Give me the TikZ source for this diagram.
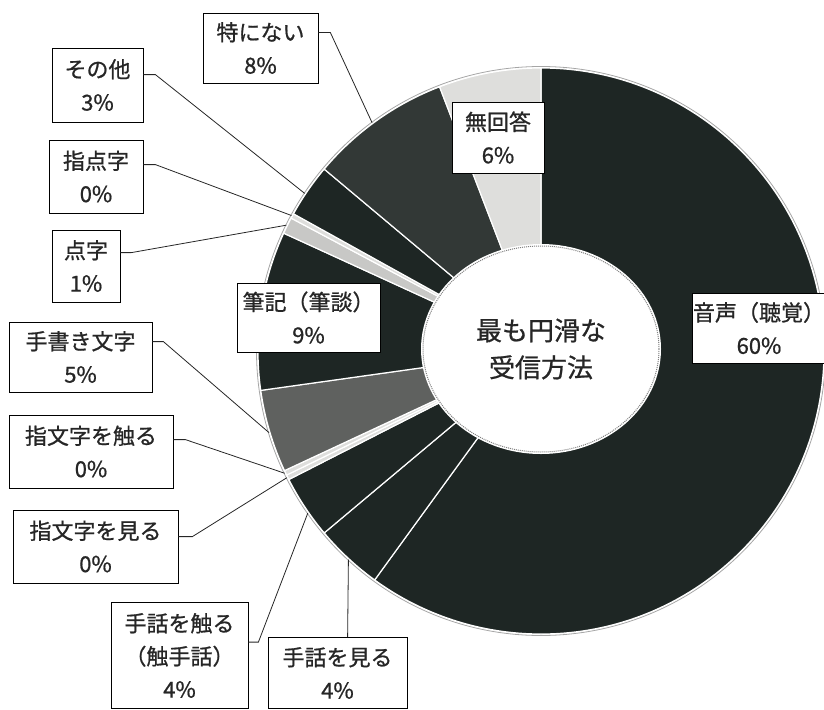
\documentclass[tikz,border=0pt]{standalone}
\usepackage{fontspec}
\setmainfont{Noto Sans CJK JP}[FakeBold=0.8]
\usetikzlibrary{calc}
\definecolor{inkDark}{RGB}{30,38,36}
\definecolor{inkSpeck}{RGB}{50,56,54}
\definecolor{inkMid}{RGB}{95,97,95}
\definecolor{inkLight}{RGB}{200,200,198}
\definecolor{inkPale}{RGB}{222,222,220}
\newcommand{\drawSlice}[3]{
    \filldraw[fill=#3, draw=white, line width=1.2pt] (C) -- ($(C)+(#1:283)$) arc (#1:#2:283) -- cycle;
}
\newcommand{\leaderEnd}[2]{
    \coordinate (#1) at ($(C)+(#2:284)$);
}
\tikzset{
    lbl/.style={draw, fill=white, line width=0.8pt, align=center, inner sep=0pt,
        text=black!85, font=\fontsize{22}{33}\selectfont},
    lead/.style={line width=0.8pt, black!85}
}

\begin{document}
\begin{tikzpicture}[x=1pt, y=1pt]
\useasboundingbox (0,0) rectangle (824,-709);
\coordinate (C) at (541,-351);
\coordinate (H) at (541,-349);

% Ring, clockwise from the top
\drawSlice{90}{-126}{inkDark}      % voice
\drawSlice{-126}{-140}{inkDark}    % sign, seen
\drawSlice{-140}{-153}{inkDark}    % sign, touched
\drawSlice{-153}{-154}{inkPale}    % fingerspelling, seen
\drawSlice{-154}{-155}{inkPale}    % fingerspelling, touched
\drawSlice{-155}{-172}{inkMid}     % handwriting
\drawSlice{-172}{-204.6}{inkDark}  % writing
\drawSlice{-204.6}{-208}{inkLight} % braille
\drawSlice{-208}{-209}{inkPale}    % finger braille
\drawSlice{-209}{-220}{inkDark}    % other
\drawSlice{-220}{-249}{inkSpeck}   % nothing
\drawSlice{-249}{-270}{inkPale}    % no answer
\draw[gray!70, line width=0.8pt] (C) circle (284.5);

% Hole
\filldraw[fill=white, draw=white, line width=2pt] (H) ellipse (119 and 104);
\draw[gray, densely dotted, line width=1pt] (H) ellipse (118 and 103);
\node[font=\fontsize{26}{37}\selectfont, align=center, text=black!85] (title) at (H) {最も円滑な\\受信方法};

% Labels
\node[lbl, minimum width=115pt, minimum height=70pt] (toku) at (260.5,-48) {特にない\\8\%};
\node[lbl, minimum width=91pt, minimum height=74pt] (sonota) at (97.5,-85) {その他\\3\%};
\node[lbl, minimum width=94pt, minimum height=73pt] (shitenji) at (96,-176.5) {指点字\\0\%};
\node[lbl, minimum width=68pt, minimum height=72pt] (tenji) at (86,-266) {点字\\1\%};
\node[lbl, minimum width=143pt, minimum height=69pt] (hikki) at (308.5,-317.5) {筆記（筆談）\\9\%};
\node[lbl, minimum width=92pt, minimum height=71pt] (mukaito) at (498,-137.5) {無回答\\6\%};
\node[lbl, minimum width=134pt, minimum height=70pt] (onsei) at (759,-328) {音声（聴覚）\\60\%};
\node[lbl, minimum width=143pt, minimum height=70pt] (tegaki) at (80.5,-357) {手書き文字\\5\%};
\node[lbl, minimum width=164pt, minimum height=73pt] (yubifure) at (91,-451.5) {指文字を触る\\0\%};
\node[lbl, minimum width=165pt, minimum height=73pt] (yubimiru) at (95.5,-546.5) {指文字を見る\\0\%};
\node[lbl, minimum width=137pt, minimum height=106pt] (shufure) at (179.5,-655.5) {手話を触る\\（触手話）\\4\%};
\node[lbl, minimum width=139pt, minimum height=71pt] (shumiru) at (337.5,-673) {手話を見る\\4\%};

% Leader lines
\leaderEnd{e-toku}{126.5}
\leaderEnd{e-sonota}{146.3}
\leaderEnd{e-shitenji}{151.5}
\leaderEnd{e-tenji}{153.7}
\leaderEnd{e-tegaki}{-163.3}
\leaderEnd{e-yubifure}{-154.5}
\leaderEnd{e-yubimiru}{-153.5}
\leaderEnd{e-shufure}{-145.2}
\leaderEnd{e-shumiru}{-132.7}
\draw[lead] (toku.north east) ++(0,-20) -- ++(12,0) -- (e-toku);
\draw[lead] (sonota.north east) ++(0,-27) -- ++(12,0) -- (e-sonota);
\draw[lead] (shitenji.north east) ++(0,-25) -- ++(12,0) -- (e-shitenji);
\draw[lead] (tenji.north east) ++(0,-23) -- ++(11,0) -- (e-tenji);
\draw[lead] (tegaki.north east) ++(0,-20) -- ++(11,0) -- (e-tegaki);
\draw[lead] (yubifure.north east) ++(0,-25) -- ++(12,0) -- (e-yubifure);
\draw[lead] (yubimiru.north east) ++(0,-27) -- ++(14,0) -- (e-yubimiru);
\draw[lead] (shufure.north east) ++(0,-40) -- ++(10,0) -- (e-shufure);
\draw[lead] (shumiru.north west) ++(80,0) -- (e-shumiru);

\end{tikzpicture}
\end{document}
